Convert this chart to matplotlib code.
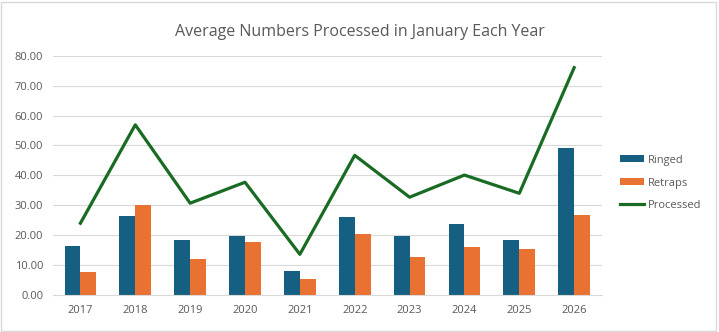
import matplotlib
matplotlib.use('Agg')
import matplotlib.pyplot as plt
from matplotlib.patches import Rectangle
import numpy as np

YEARS = ['2017', '2018', '2019', '2020', '2021', '2022', '2023', '2024', '2025', '2026']
RINGED = [16.4, 26.4, 18.4, 19.7, 8.0, 26.1, 19.7, 23.7, 18.4, 49.1]
RETRAPS = [7.7, 30.1, 12.0, 17.7, 5.4, 20.3, 12.7, 16.0, 15.4, 26.8]
PROCESSED = [24.0, 56.9, 30.7, 37.7, 13.6, 46.7, 32.7, 40.1, 34.0, 76.0]

BLUE = '#156082'
ORANGE = '#E97132'
GREEN = '#196B24'
TEXT = '#595959'
GRID = '#D9D9D9'

plt.rcParams['font.family'] = ['Open Sans', 'DejaVu Sans']

fig = plt.figure(figsize=(7.19, 3.32), dpi=100)
ax = fig.add_axes([0.0737, 0.1114, 0.763, 0.7208])

x = np.arange(len(YEARS))
w = 0.29
b1 = ax.bar(x - w / 2, RINGED, w, color=BLUE, label='Ringed', zorder=2)
b2 = ax.bar(x + w / 2, RETRAPS, w, color=ORANGE, label='Retraps', zorder=2)
l1, = ax.plot(x, PROCESSED, color=GREEN, lw=2.3, label='Processed', zorder=3)

ax.set_xlim(-0.5, len(YEARS) - 0.5)
ax.set_ylim(0, 80)
ax.set_yticks(np.arange(0, 81, 10))
ax.set_yticklabels([f'{v:.2f}' for v in np.arange(0, 81, 10)])
ax.set_xticks(x)
ax.set_xticklabels(YEARS)
ax.tick_params(length=0, colors=TEXT, labelsize=8, pad=7)
ax.grid(axis='y', color=GRID, lw=0.8, zorder=0)
for s in ['top', 'right', 'left']:
    ax.spines[s].set_visible(False)
ax.spines['bottom'].set_color(GRID)

fig.text(0.5, 0.905, 'Average Numbers Processed in January Each Year',
         ha='center', va='center', fontsize=11.5, color=TEXT)

leg = ax.legend([b1, b2, l1], ['Ringed', 'Retraps', 'Processed'],
                loc='center left', bbox_to_anchor=(1.015, 0.468), frameon=False,
                fontsize=8, handlelength=2.2, handleheight=0.6,
                handletextpad=0.3, labelspacing=1.05)
for t in leg.get_texts():
    t.set_color(TEXT)

fig.patches.append(Rectangle((0.002, 0.004), 0.994, 0.99, transform=fig.transFigure,
                             fill=False, edgecolor=GRID, lw=1))

fig.savefig('out.png', dpi=100)
